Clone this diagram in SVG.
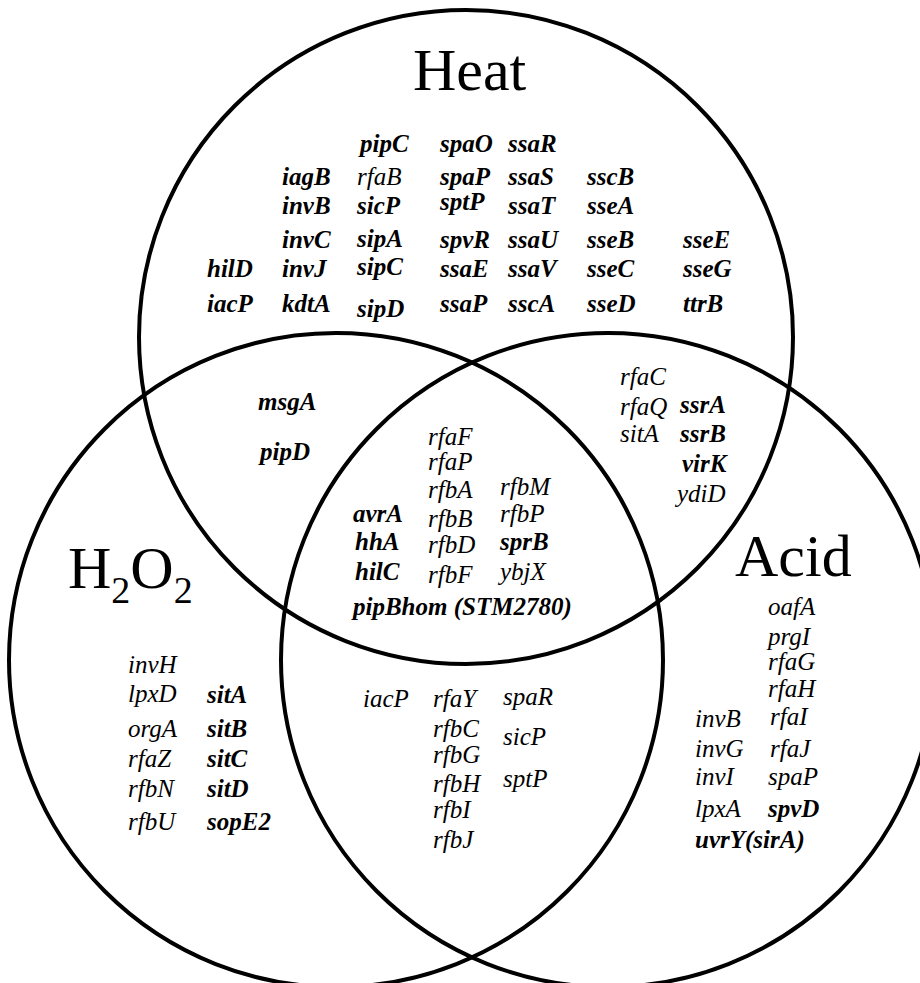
<svg xmlns="http://www.w3.org/2000/svg" width="920" height="983" viewBox="0 0 920 983">
<style>
.c{fill:none;stroke:#000;stroke-width:4}
text{font-family:"Liberation Serif","Times New Roman",serif;fill:#000}
.g{font-size:25px;font-style:italic}
.b{font-weight:bold}
.t{font-size:60px}
</style>
<rect x="0" y="0" width="920" height="983" fill="#fff"/>
<g id="circles">
<circle id="heat-circle" class="c" cx="466" cy="337" r="327"/>
<circle id="h2o2-circle" class="c" cx="336" cy="660" r="327"/>
<circle id="acid-circle" class="c" cx="608" cy="660" r="327"/>
</g>
<g id="titles">
<text class="t" x="413" y="90">Heat</text>
<text class="t" x="68" y="588">H<tspan font-size="38" dy="15">2</tspan><tspan dy="-15">O</tspan><tspan font-size="38" dy="15">2</tspan></text>
<text class="t" x="735" y="576">Acid</text>
</g>
<g id="heat-only" class="g">
<text class="b" x="360" y="152">pipC</text>
<text class="b" x="440" y="152">spaO</text>
<text class="b" x="508" y="152">ssaR</text>
<text class="b" x="282" y="185">iagB</text>
<text x="357" y="185">rfaB</text>
<text class="b" x="440" y="185">spaP</text>
<text class="b" x="508" y="185">ssaS</text>
<text class="b" x="587" y="185">sscB</text>
<text class="b" x="282" y="214">invB</text>
<text class="b" x="357" y="214">sicP</text>
<text class="b" x="440" y="210">sptP</text>
<text class="b" x="508" y="214">ssaT</text>
<text class="b" x="587" y="214">sseA</text>
<text class="b" x="282" y="248">invC</text>
<text class="b" x="357" y="247">sipA</text>
<text class="b" x="440" y="248">spvR</text>
<text class="b" x="508" y="248">ssaU</text>
<text class="b" x="587" y="248">sseB</text>
<text class="b" x="683" y="248">sseE</text>
<text class="b" x="207" y="277">hilD</text>
<text class="b" x="282" y="277">invJ</text>
<text class="b" x="357" y="275">sipC</text>
<text class="b" x="440" y="277">ssaE</text>
<text class="b" x="508" y="277">ssaV</text>
<text class="b" x="587" y="277">sseC</text>
<text class="b" x="683" y="277">sseG</text>
<text class="b" x="207" y="312">iacP</text>
<text class="b" x="282" y="312">kdtA</text>
<text class="b" x="357" y="317">sipD</text>
<text class="b" x="440" y="312">ssaP</text>
<text class="b" x="508" y="312">sscA</text>
<text class="b" x="587" y="312">sseD</text>
<text class="b" x="683" y="312">ttrB</text>
</g>
<g id="heat-h2o2" class="g">
<text class="b" x="258" y="410">msgA</text>
<text class="b" x="260" y="460">pipD</text>
</g>
<g id="heat-acid" class="g">
<text x="620" y="385">rfaC</text>
<text x="620" y="415">rfaQ</text>
<text class="b" x="680" y="413">ssrA</text>
<text x="620" y="442">sitA</text>
<text class="b" x="680" y="442">ssrB</text>
<text class="b" x="682" y="472">virK</text>
<text x="677" y="502">ydiD</text>
</g>
<g id="all-three" class="g">
<text x="428" y="445">rfaF</text>
<text x="428" y="470">rfaP</text>
<text x="428" y="498">rfbA</text>
<text x="500" y="495">rfbM</text>
<text class="b" x="353" y="522">avrA</text>
<text x="428" y="527">rfbB</text>
<text x="500" y="522">rfbP</text>
<text class="b" x="355" y="550">hhA</text>
<text x="428" y="553">rfbD</text>
<text class="b" x="500" y="550">sprB</text>
<text class="b" x="355" y="580">hilC</text>
<text x="428" y="583">rfbF</text>
<text x="500" y="580">ybjX</text>
<text class="b" x="353" y="615">pipBhom (STM2780)</text>
</g>
<g id="h2o2-acid" class="g">
<text x="363" y="707">iacP</text>
<text x="433" y="707">rfaY</text>
<text x="503" y="705">spaR</text>
<text x="433" y="737">rfbC</text>
<text x="503" y="745">sicP</text>
<text x="433" y="763">rfbG</text>
<text x="433" y="792">rfbH</text>
<text x="503" y="787">sptP</text>
<text x="433" y="818">rfbI</text>
<text x="433" y="848">rfbJ</text>
</g>
<g id="h2o2-only" class="g">
<text x="128" y="673">invH</text>
<text x="128" y="702">lpxD</text>
<text class="b" x="207" y="703">sitA</text>
<text x="128" y="737">orgA</text>
<text class="b" x="207" y="737">sitB</text>
<text x="128" y="767">rfaZ</text>
<text class="b" x="207" y="767">sitC</text>
<text x="128" y="797">rfbN</text>
<text class="b" x="207" y="797">sitD</text>
<text x="128" y="830">rfbU</text>
<text class="b" x="207" y="830">sopE2</text>
</g>
<g id="acid-only" class="g">
<text x="768" y="615">oafA</text>
<text x="768" y="645">prgI</text>
<text x="768" y="670">rfaG</text>
<text x="768" y="697">rfaH</text>
<text x="695" y="727">invB</text>
<text x="770" y="725">rfaI</text>
<text x="695" y="757">invG</text>
<text x="770" y="757">rfaJ</text>
<text x="695" y="785">invI</text>
<text x="768" y="785">spaP</text>
<text x="695" y="817">lpxA</text>
<text class="b" x="768" y="817">spvD</text>
<text class="b" x="695" y="848">uvrY(sirA)</text>
</g>
</svg>
